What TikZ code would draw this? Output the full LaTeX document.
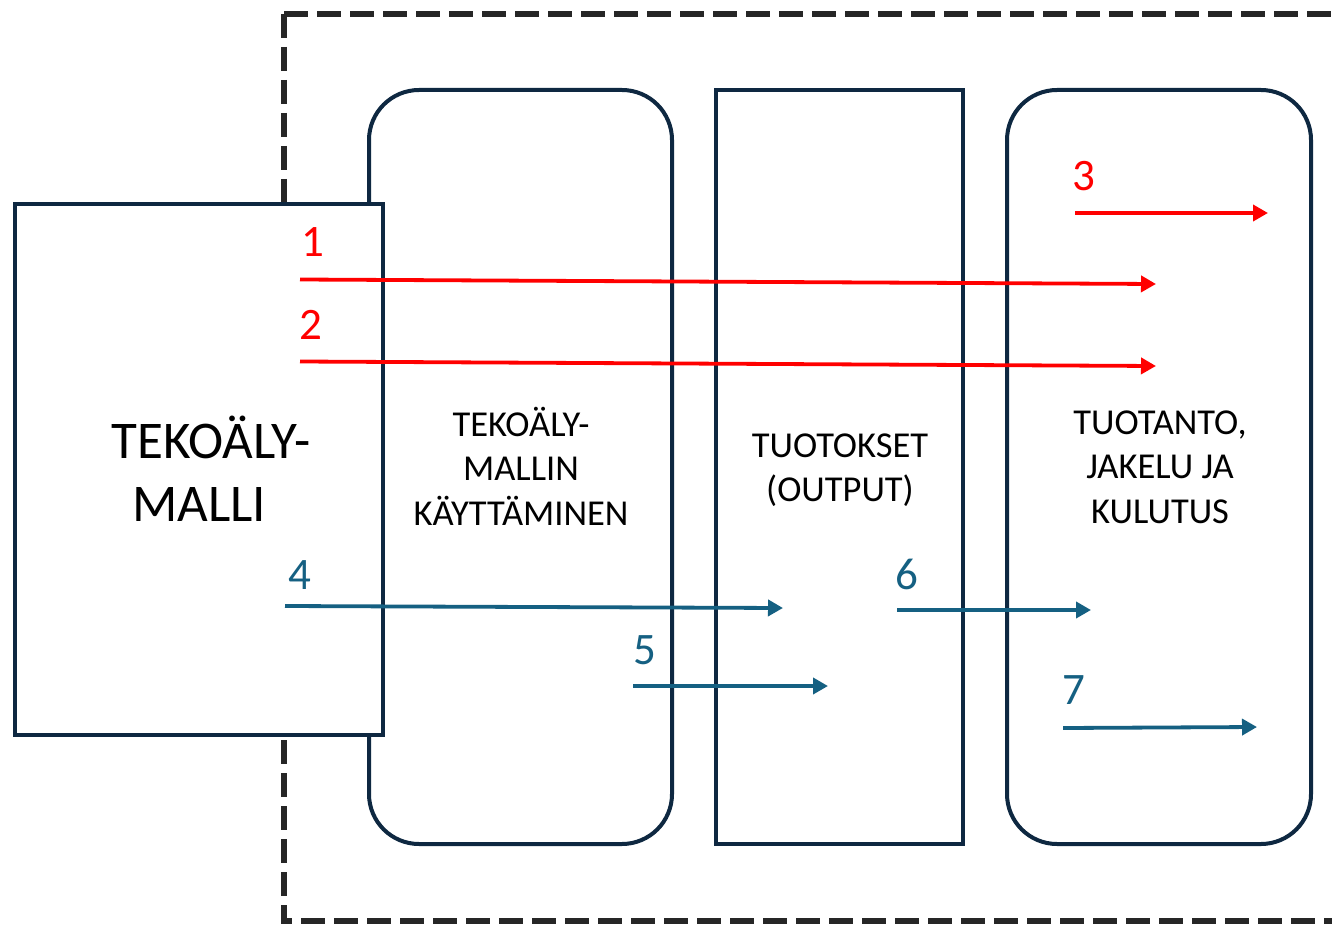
\documentclass[tikz,border=0pt]{standalone}
\usepackage{fontspec}
\setmainfont{Carlito}
\usetikzlibrary{arrows.meta}
\definecolor{navy}{HTML}{0E2841}
\definecolor{arrowblue}{HTML}{156082}
\definecolor{dashgray}{HTML}{262626}
\definecolor{pptred}{HTML}{FF0000}
\tikzset{
  boxline/.style={draw=navy, line width=4pt, fill=white},
  roundbox/.style={boxline, rounded corners=50pt, inner sep=0pt},
  plainbox/.style={boxline, inner sep=0pt},
  redarrow/.style={draw=pptred, line width=3.8pt, -{Triangle[length=15pt,width=16pt]}},
  bluearrow/.style={draw=arrowblue, line width=3.8pt, -{Triangle[length=15pt,width=16pt]}},
  rednum/.style={text=pptred, font=\fontsize{45}{52}\selectfont, inner sep=0pt},
  bluenum/.style={text=arrowblue, font=\fontsize{45}{52}\selectfont, inner sep=0pt},
  midtext/.style={align=center, font=\fontsize{36.5}{44.5}\selectfont, inner sep=0pt},
  bigtext/.style={align=center, font=\fontsize{53}{63}\selectfont, inner sep=0pt},
  scopeline/.style={draw=dashgray, line width=6pt, dash pattern=on 24pt off 9pt}
}
\begin{document}
\begin{tikzpicture}[x=1pt, y=-1pt]
\clip (0,0) rectangle (1332,925);
\fill[white] (0,0) rectangle (1332,925);
% dashed scope
\coordinate (dtl) at (284,14);
\coordinate (dtr) at (1350,14);
\coordinate (dbl) at (284,921);
\coordinate (dbr) at (1350,921);
\draw[scopeline] (dtl) -- (dtr);
\draw[scopeline] (dtl) -- (dbl) -- (dbr);
% boxes
\node[roundbox, minimum width=303pt, minimum height=754pt] (use) at (520.5,467) {};
\node[plainbox, minimum width=247pt, minimum height=754pt] (out) at (839.5,467) {};
\node[roundbox, minimum width=304pt, minimum height=754pt] (prod) at (1159,467) {};
\node[plainbox, minimum width=368pt, minimum height=531pt] (model) at (199,469.5) {};
% texts
\node[bigtext] (modeltext) at (199,469) {\hspace*{24pt}TEKOÄLY-\\MALLI};
\node[midtext] (usetext) at (521,466) {TEKOÄLY-\\MALLIN\\KÄYTTÄMINEN};
\node[midtext] (outtext) at (840,470) {TUOTOKSET\\(OUTPUT)};
\node[midtext] (prodtext) at (1160,467) {TUOTANTO,\\JAKELU JA\\KULUTUS};
% arrow end points
\coordinate (r1s) at (300,279.5);
\coordinate (r1e) at (1156,284);
\coordinate (r2s) at (300,361.5);
\coordinate (r2e) at (1156,366);
\coordinate (r3s) at (1075,213);
\coordinate (r3e) at (1268,213);
\coordinate (b4s) at (285,606);
\coordinate (b4e) at (783,608);
\coordinate (b5s) at (633,686);
\coordinate (b5e) at (828,686);
\coordinate (b6s) at (897,610);
\coordinate (b6e) at (1091,610);
\coordinate (b7s) at (1063,728);
\coordinate (b7e) at (1257,727);
\draw[redarrow] (r1s) -- (r1e);
\draw[redarrow] (r2s) -- (r2e);
\draw[redarrow] (r3s) -- (r3e);
\draw[bluearrow] (b4s) -- (b4e);
\draw[bluearrow] (b5s) -- (b5e);
\draw[bluearrow] (b6s) -- (b6e);
\draw[bluearrow] (b7s) -- (b7e);
% number labels
\node[rednum] (n1) at (313,242) {1};
\node[rednum] (n2) at (311,325) {2};
\node[rednum] (n3) at (1084,176) {3};
\node[bluenum] (n4) at (300,575) {4};
\node[bluenum] (n5) at (645,650) {5};
\node[bluenum] (n6) at (907,574) {6};
\node[bluenum] (n7) at (1074,690) {7};
\end{tikzpicture}
\end{document}
